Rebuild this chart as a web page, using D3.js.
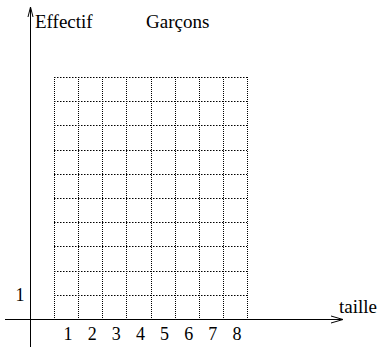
<!DOCTYPE html>
<html><head><meta charset="utf-8">
<script src="https://cdn.jsdelivr.net/npm/d3@7/dist/d3.min.js"></script>
<style>body{margin:0;background:#fff}svg{display:block}text{font-family:"Liberation Serif","Times New Roman",serif;fill:#000}</style>
</head><body>
<script>
const categories = [1,2,3,4,5,6,7,8];
const yTicks = [1];
const gridRows = [0,1,2,3,4,5,6,7,8,9,10];
const title = "Garçons";
const xLabel = "taille";
const yLabel = "Effectif";

const W = 380, H = 347;
const svg = d3.select("body").append("svg").attr("width", W).attr("height", H);

const x = d3.scaleLinear().domain([0.5, 8.5]).range([54, 247]);
const y = d3.scaleLinear().domain([0, 10]).range([319, 77]);
const axisX = 30.5, axisY = 319.5;

// grid
const g = svg.append("g").attr("stroke", "#000").attr("stroke-width", 1);
gridRows.forEach(r => {
  g.append("line").attr("x1", x(0.5)).attr("x2", x(8.5))
    .attr("y1", Math.round(y(r)) + 0.5).attr("y2", Math.round(y(r)) + 0.5)
    .attr("stroke-dasharray", "1.5,1.5");
});
const xs = categories.map(c => c - 0.5).concat([8.5]);
xs.forEach(v => {
  g.append("line").attr("x1", Math.round(x(v)) + 0.5).attr("x2", Math.round(x(v)) + 0.5)
    .attr("y1", y(10)).attr("y2", y(0))
    .attr("stroke-dasharray", "1,1");
});

// axes
const ax = svg.append("g").attr("stroke", "#000").attr("stroke-width", 1).attr("fill", "none");
ax.append("line").attr("x1", 5).attr("x2", 343).attr("y1", axisY).attr("y2", axisY);
ax.append("path").attr("d", `M${331},${axisY-3.5} L343,${axisY} L${331},${axisY+3.5}`);
ax.append("line").attr("x1", axisX).attr("x2", axisX).attr("y1", H).attr("y2", 7);
ax.append("path").attr("d", `M${axisX-2.5},${17} L${axisX},7 L${axisX+2.5},${17}`);

// tick labels
svg.selectAll(".xt").data(categories).enter().append("text")
  .attr("x", d => x(d) + 2).attr("y", 340).attr("text-anchor", "middle")
  .attr("font-size", 18).text(d => d);
svg.selectAll(".yt").data(yTicks).enter().append("text")
  .attr("x", 24.5).attr("y", y(1) + 6).attr("text-anchor", "end")
  .attr("font-size", 18).text(d => d);

svg.append("text").attr("x", 35).attr("y", 28).attr("font-size", 19).text(yLabel);
svg.append("text").attr("x", 146).attr("y", 28).attr("font-size", 19).text(title);
svg.append("text").attr("x", 339).attr("y", 313).attr("font-size", 19).text(xLabel);
</script>
</body></html>
